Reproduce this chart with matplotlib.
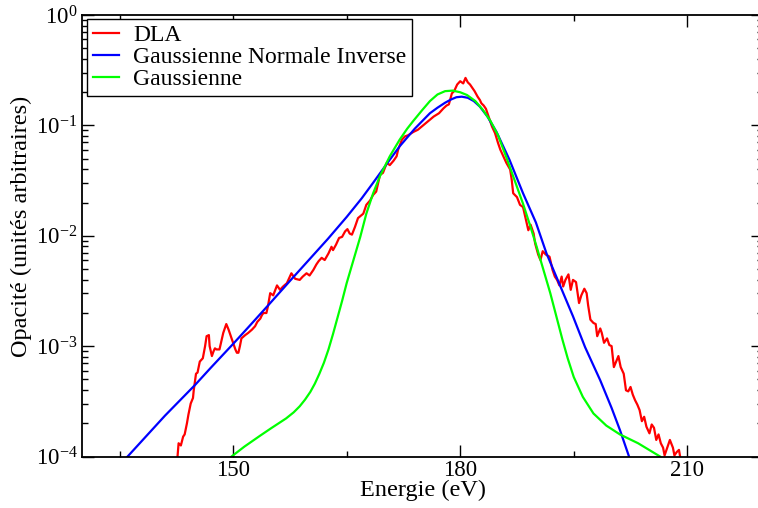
import numpy as np
import matplotlib
matplotlib.use("Agg")
import matplotlib.pyplot as plt

plt.rcParams['font.family'] = ['Liberation Serif', 'DejaVu Serif']
plt.rcParams['mathtext.fontset'] = 'custom'
plt.rcParams['mathtext.rm'] = 'Liberation Serif'
plt.rcParams['mathtext.it'] = 'Liberation Serif:italic'

# ---- data (energy in eV, opacity given as log10) ----
dla_x = [142.6, 142.8, 143.1, 143.4, 143.6, 143.9, 144.1, 144.4, 144.7, 144.8, 145.1, 145.3,
         145.6, 146.0, 146.3, 146.5, 146.8, 146.9, 147.2, 147.4, 147.6, 147.8, 148.2, 148.5,
         148.7, 149.1, 149.4, 149.7, 150.0, 150.3, 150.5, 150.7, 150.9, 151.1, 151.6, 152.0,
         152.5, 152.9, 153.2, 153.6, 153.8, 154.0, 154.4, 154.6, 154.9, 155.3, 155.8, 156.2,
         156.6, 157.1, 157.7, 158.2, 158.8, 159.2, 159.7, 160.1, 160.6, 161.0, 161.3, 161.7,
         162.1, 162.6, 163.0, 163.2, 163.6, 164.0, 164.4, 164.8, 165.1, 165.4, 165.7, 166.1,
         166.5, 167.2, 167.6, 168.1, 168.5, 168.9, 169.1, 169.4, 169.8, 170.3, 170.7, 171.2,
         171.6, 171.8, 172.3, 172.7, 173.1, 173.8, 174.4, 175.1, 175.8, 176.5, 177.2, 177.8,
         178.2, 178.5, 178.9, 179.2, 179.6, 180.0, 180.4, 180.7, 181.0, 181.3, 181.6, 181.9,
         182.3, 182.6, 182.8, 183.1, 183.4, 183.7, 184.2, 184.6, 185.0, 185.3, 185.7, 186.1,
         186.6, 186.8, 187.0, 187.5, 187.9, 188.3, 188.8, 189.0, 189.3, 189.7, 189.9, 190.3,
         190.6, 190.9, 191.3, 191.8, 192.2, 192.5, 192.8, 193.1, 193.4, 193.6, 193.9, 194.3,
         194.6, 194.9, 195.3, 195.7, 196.0, 196.4, 196.7, 196.9, 197.2, 197.6, 197.9, 198.1,
         198.5, 198.7, 199.0, 199.4, 199.7, 200.0, 200.3, 200.6, 200.9, 201.2, 201.6, 201.9,
         202.2, 202.5, 202.8, 203.1, 203.4, 203.7, 204.0, 204.3, 204.6, 205.0, 205.3, 205.6,
         205.9, 206.2, 206.5, 206.8, 207.0, 207.4, 207.7, 208.1, 208.3, 208.6, 208.9, 209.1]
dla_log = [-4.05, -3.88, -3.90, -3.82, -3.80, -3.70, -3.62, -3.52, -3.47, -3.40, -3.25, -3.24,
           -3.14, -3.11, -3.00, -2.91, -2.90, -3.00, -3.09, -3.05, -3.02, -3.03, -3.03, -2.94,
           -2.88, -2.80, -2.85, -2.91, -2.97, -3.03, -3.06, -3.06, -3.00, -2.93, -2.90, -2.88,
           -2.85, -2.82, -2.78, -2.75, -2.72, -2.70, -2.70, -2.64, -2.52, -2.54, -2.45, -2.49,
           -2.46, -2.43, -2.34, -2.39, -2.40, -2.37, -2.34, -2.36, -2.31, -2.26, -2.23, -2.20,
           -2.22, -2.16, -2.10, -2.13, -2.08, -2.02, -2.01, -1.96, -1.94, -1.98, -1.99, -1.92,
           -1.84, -1.80, -1.72, -1.68, -1.63, -1.60, -1.54, -1.45, -1.43, -1.34, -1.36, -1.32,
           -1.28, -1.22, -1.13, -1.10, -1.09, -1.06, -1.04, -1.00, -0.96, -0.92, -0.89, -0.845,
           -0.82, -0.81, -0.71, -0.69, -0.63, -0.60, -0.62, -0.57, -0.61, -0.63, -0.66, -0.69,
           -0.74, -0.77, -0.80, -0.82, -0.85, -0.91, -1.01, -1.07, -1.16, -1.22, -1.28, -1.34,
           -1.40, -1.49, -1.615, -1.65, -1.72, -1.74, -1.89, -1.95, -1.90, -1.98, -2.07, -2.17,
           -2.22, -2.14, -2.17, -2.19, -2.31, -2.37, -2.40, -2.45, -2.37, -2.46, -2.40, -2.35,
           -2.49, -2.40, -2.42, -2.61, -2.54, -2.48, -2.52, -2.63, -2.76, -2.79, -2.80, -2.91,
           -2.84, -2.88, -2.97, -2.93, -2.99, -3.00, -3.19, -3.14, -3.09, -3.19, -3.25, -3.40,
           -3.41, -3.37, -3.44, -3.49, -3.53, -3.58, -3.68, -3.64, -3.73, -3.79, -3.71, -3.74,
           -3.85, -3.80, -3.88, -3.92, -3.99, -3.91, -3.85, -3.92, -3.99, -3.96, -3.94, -4.02]

ig_x = [135.8, 137.0, 139.0, 141.0, 143.0, 145.0, 147.0, 150.0, 152.0, 154.9, 157.5, 160.0,
        162.5, 165.0, 167.0, 168.5, 170.5, 172.0, 174.0, 176.0, 177.0, 178.0, 178.8, 179.5,
        180.2, 181.0, 181.8, 182.6, 183.6, 184.8, 186.5, 188.3, 190.0, 191.4, 193.0, 194.9,
        196.5, 198.5, 200.0, 201.1, 202.4]
ig_log = [-4.02, -3.93, -3.78, -3.63, -3.49, -3.35, -3.20, -2.98, -2.83, -2.61, -2.41, -2.22,
          -2.03, -1.83, -1.66, -1.52, -1.33, -1.19, -1.03, -0.89, -0.84, -0.795, -0.765, -0.745,
          -0.74, -0.75, -0.78, -0.83, -0.92, -1.06, -1.31, -1.615, -1.88, -2.16, -2.42, -2.73,
          -3.01, -3.31, -3.56, -3.76, -4.02]

g_x = [149.8, 151.5, 153.6, 155.0, 156.0, 157.0, 158.0, 158.8, 159.5, 160.2, 160.8, 161.4,
       162.0, 162.6, 163.2, 163.8, 164.4, 165.0, 165.9, 166.8, 167.6, 168.5, 169.4, 170.7,
       172.0, 173.0, 173.8, 175.0, 176.0, 177.0, 178.0, 179.0, 180.0, 180.9, 182.0, 183.0,
       184.0, 185.0, 186.1, 187.2, 188.3, 189.2, 190.1, 191.0, 191.9, 192.7, 193.5, 194.2,
       195.0, 196.2, 197.6, 199.3, 201.1, 203.5, 206.4]
g_log = [-4.00, -3.91, -3.81, -3.745, -3.70, -3.655, -3.60, -3.545, -3.485, -3.415, -3.34, -3.25,
         -3.15, -3.03, -2.89, -2.74, -2.59, -2.43, -2.22, -2.01, -1.80, -1.615, -1.46, -1.28,
         -1.13, -1.03, -0.96, -0.86, -0.78, -0.72, -0.69, -0.685, -0.70, -0.725, -0.78, -0.86,
         -0.96, -1.09, -1.29, -1.50, -1.71, -1.90, -2.10, -2.31, -2.52, -2.73, -2.94, -3.11,
         -3.28, -3.46, -3.61, -3.72, -3.80, -3.88, -4.00]

labels = ["DLA", "Gaussienne Normale Inverse", "Gaussienne"]
colors = ["#ff0000", "#0000ff", "#00ff00"]
x_ticks = [150, 180, 210]

W, H = 758, 508
fig = plt.figure(figsize=(W / 100, H / 100), dpi=100)
left, right, top, bottom = 81.7, 763.0, 15.0, 456.5
ax = fig.add_axes([left / W, 1 - bottom / H, (right - left) / W, (bottom - top) / H])

ax.plot(dla_x, 10 ** np.array(dla_log), color=colors[0], lw=1.6, label=labels[0])
ax.plot(ig_x, 10 ** np.array(ig_log), color=colors[1], lw=1.6, label=labels[1])
ax.plot(g_x, 10 ** np.array(g_log), color=colors[2], lw=1.6, label=labels[2])

ax.set_yscale('log')
ax.set_xlim(130, 220)
ax.set_ylim(1e-4, 1)
ax.set_xticks(x_ticks)
ax.set_xticks([135, 165, 195], minor=True)
ax.set_yticks([1e-4, 1e-3, 1e-2, 1e-1, 1])
ax.set_yticklabels([r'$\mathregular{10^{-4}}$', r'$\mathregular{10^{-3}}$',
                    r'$\mathregular{10^{-2}}$', r'$\mathregular{10^{-1}}$',
                    r'$\mathregular{10^{0}}$'])
ax.tick_params(which='both', direction='in', top=True, right=True, width=1.0,
               labelsize=16.5)
ax.tick_params(axis='x', which='both', pad=2.5)
ax.tick_params(axis='y', which='both', pad=3)
ax.tick_params(which='major', length=8.5)
ax.tick_params(which='minor', length=4.5)
for s in ax.spines.values():
    s.set_linewidth(1.3)

ax.set_xlabel("Energie (eV)", fontsize=17.5)
ax.set_ylabel("Opacité (unités arbitraires)", fontsize=17.5)
ax.xaxis.set_label_coords(0.501, -0.052)
ax.yaxis.set_label_coords(-0.073, 0.522)

leg = ax.legend(loc='upper left', bbox_to_anchor=(0.0078, 0.991), borderaxespad=0,
                fontsize=17, frameon=True, fancybox=False,
                edgecolor='black', framealpha=1, handlelength=1.1, handletextpad=0.6,
                labelspacing=0.02, borderpad=0.25)
leg.get_frame().set_linewidth(1.0)

fig.savefig("out.png", dpi=100)
